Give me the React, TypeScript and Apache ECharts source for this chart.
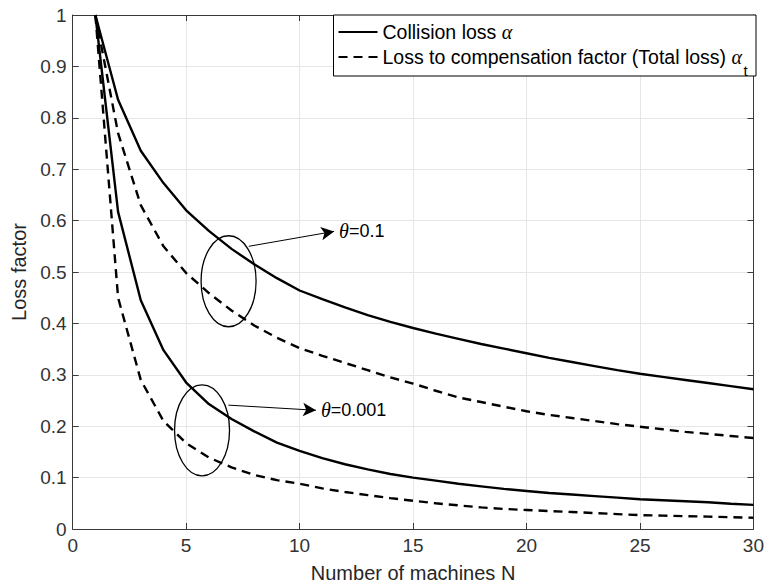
import React, { useEffect, useRef } from "react";
import * as echarts from "echarts";

// Number of machines N
const machines = [1, 2, 3, 4, 5, 6, 7, 8, 9, 10, 11, 12, 13, 14, 15, 16, 17, 18, 19, 20, 21, 22, 23, 24, 25, 26, 27, 28, 29, 30];

// theta = 0.1
const collisionTheta01 = [1, 0.835, 0.736, 0.673, 0.62, 0.58, 0.545, 0.515, 0.488, 0.464, 0.447, 0.431, 0.416, 0.403, 0.391, 0.38, 0.37, 0.36, 0.351, 0.342, 0.333, 0.325, 0.317, 0.309, 0.302, 0.296, 0.29, 0.284, 0.278, 0.272];
const totalTheta01 = [1, 0.77, 0.63, 0.55, 0.498, 0.459, 0.425, 0.396, 0.372, 0.352, 0.337, 0.323, 0.309, 0.295, 0.283, 0.269, 0.256, 0.247, 0.238, 0.229, 0.222, 0.216, 0.21, 0.204, 0.199, 0.194, 0.189, 0.185, 0.181, 0.177];

// theta = 0.001
const collisionTheta0001 = [1, 0.617, 0.445, 0.348, 0.285, 0.243, 0.214, 0.19, 0.168, 0.152, 0.138, 0.126, 0.116, 0.107, 0.1, 0.094, 0.088, 0.083, 0.078, 0.074, 0.07, 0.067, 0.064, 0.061, 0.058, 0.056, 0.054, 0.052, 0.049, 0.047];
const totalTheta0001 = [1, 0.45, 0.29, 0.21, 0.167, 0.139, 0.12, 0.105, 0.095, 0.088, 0.079, 0.072, 0.066, 0.06, 0.055, 0.05, 0.046, 0.042, 0.039, 0.037, 0.035, 0.033, 0.031, 0.029, 0.027, 0.026, 0.025, 0.024, 0.023, 0.022];

const legendNames = ["Collision loss α", "Loss to compensation factor (Total loss) αt"];
const legendSubscript = "t";
const xAxisName = "Number of machines N";
const yAxisName = "Loss factor";

// annotations (data coordinates)
const thetaLabels = ["0.1", "0.001"];
const ellipseCenters = [[6.87, 0.482], [5.7, 0.192]];
const arrowStarts = [[7.76, 0.55], [6.86, 0.241]];
const arrowEnds = [[11.52, 0.579], [10.72, 0.231]];

const FONT = "'Liberation Sans', Arial, Helvetica, sans-serif";
const SERIF = "'Liberation Serif', 'DejaVu Serif', serif";

const pairs = (ys: number[]) => machines.map((n, i) => [n, ys[i]]);

const W = 767;
const LEGEND_RIGHT = 11;
const LEGEND_TOP = 15;
const LEGEND_PAD = [7, 14, 9, 4];

export default function App() {
  const ref = useRef<HTMLDivElement>(null);
  useEffect(() => {
    if (!ref.current) return;
    const chart = echarts.init(ref.current, null, { renderer: "svg" });
    const solid = { color: "#000", width: 2.4, type: "solid" as const };
    const dashed = { color: "#000", width: 2.4, type: [9, 6] as any };
    const axisColor = "#3a3a3a";
    chart.setOption({
      animation: false,
      backgroundColor: "#fff",
      grid: { left: 72.7, right: 11, top: 15, bottom: 58.5, containLabel: false },
      legend: {
        orient: "vertical",
        right: LEGEND_RIGHT,
        top: LEGEND_TOP,
        align: "left",
        data: legendNames,
        itemWidth: 39,
        itemHeight: 14,
        itemGap: 5,
        padding: LEGEND_PAD,
        backgroundColor: "#fff",
        borderColor: "#000",
        borderWidth: 1,
        borderRadius: 0,
        selectedMode: false,
        itemStyle: { opacity: 0, color: "rgba(0,0,0,0)", borderWidth: 0 },
        formatter: (name: string) =>
          name === legendNames[0]
            ? "{m|Collision loss }{a|α}"
            : "{m|Loss to compensation factor (Total loss) }{a|α}",
        textStyle: {
          color: "#000",
          fontFamily: FONT,
          fontSize: 19.5,
          rich: {
            m: { fontFamily: FONT, fontSize: 19.5, color: "#000", lineHeight: 20 },
            a: { fontFamily: SERIF, fontStyle: "italic", fontSize: 20, color: "#000", lineHeight: 20 },
          },
        },
      },
      xAxis: [
        {
          type: "value",
          min: 0,
          max: 30,
          interval: 5,
          name: xAxisName,
          nameLocation: "middle",
          nameGap: 34,
          nameTextStyle: { fontFamily: FONT, fontSize: 20, color: "#262626" },
          axisLine: { show: true, onZero: false, lineStyle: { color: axisColor, width: 1 } },
          axisTick: { show: true, inside: true, length: 6, lineStyle: { color: axisColor } },
          axisLabel: { fontFamily: FONT, fontSize: 19, color: "#333", margin: 7 },
          splitLine: { show: true, lineStyle: { color: "#e6e6e6", width: 1 } },
        },
        {
          type: "value",
          position: "top",
          min: 0,
          max: 30,
          interval: 5,
          axisLine: { show: true, onZero: false, lineStyle: { color: axisColor, width: 1 } },
          axisTick: { show: true, inside: true, length: 6, lineStyle: { color: axisColor } },
          axisLabel: { show: false },
          splitLine: { show: false },
        },
      ],
      yAxis: [
        {
          type: "value",
          min: 0,
          max: 1,
          interval: 0.1,
          name: yAxisName,
          nameLocation: "middle",
          nameGap: 37,
          nameTextStyle: { fontFamily: FONT, fontSize: 20, color: "#262626" },
          axisLine: { show: true, onZero: false, lineStyle: { color: axisColor, width: 1 } },
          axisTick: { show: true, inside: true, length: 6, lineStyle: { color: axisColor } },
          axisLabel: { fontFamily: FONT, fontSize: 19, color: "#333", margin: 6 },
          splitLine: { show: true, lineStyle: { color: "#e6e6e6", width: 1 } },
        },
        {
          type: "value",
          position: "right",
          min: 0,
          max: 1,
          interval: 0.1,
          axisLine: { show: true, onZero: false, lineStyle: { color: axisColor, width: 1 } },
          axisTick: { show: true, inside: true, length: 6, lineStyle: { color: axisColor } },
          axisLabel: { show: false },
          splitLine: { show: false },
        },
      ],
      series: [
        {
          name: legendNames[0],
          type: "line",
          data: pairs(collisionTheta01),
          symbol: "none",
          lineStyle: solid,
          itemStyle: { color: "#000" },
          z: 3,
          markLine: {
            silent: true,
            symbol: ["none", "arrow"],
            symbolSize: [10, 13],
            label: { show: false },
            lineStyle: { color: "#000", width: 1, type: "solid" },
            data: arrowStarts.map((s, i) => [{ coord: s }, { coord: arrowEnds[i] }]),
          },
        },
        { name: legendNames[1], type: "line", data: pairs(totalTheta01), symbol: "none", lineStyle: dashed, itemStyle: { color: "#000" } },
        { name: legendNames[0], type: "line", data: pairs(collisionTheta0001), symbol: "none", lineStyle: solid, itemStyle: { color: "#000" } },
        { name: legendNames[1], type: "line", data: pairs(totalTheta0001), symbol: "none", lineStyle: dashed, itemStyle: { color: "#000" } },
      ],
    });

    const px = (p: number[]) => chart.convertToPixel({ gridIndex: 0 }, p) as number[];
    const graphics: any[] = [];
    ellipseCenters.forEach((c) => {
      const [cx, cy] = px(c);
      graphics.push({
        type: "ellipse",
        shape: { cx, cy, rx: 27.5, ry: 45.5 },
        style: { fill: "none", stroke: "#000", lineWidth: 1.3 },
        z: 10,
      });
    });
    arrowEnds.forEach((e, i) => {
      const [x, y] = px(e);
      graphics.push({
        type: "text",
        x: x + 5,
        y: y,
        style: {
          text: "{t|θ}{n|=" + thetaLabels[i] + "}",
          verticalAlign: "middle",
          align: "left",
          rich: {
            t: { fontFamily: SERIF, fontStyle: "italic", fontSize: 20, fill: "#000", lineHeight: 20 },
            n: { fontFamily: FONT, fontSize: 18, fill: "#000", lineHeight: 20 },
          },
        },
        z: 10,
      });
    });
    // subscript "t" of the legend's second entry (legend is right-anchored)
    const row2Center = LEGEND_TOP + LEGEND_PAD[0] + 20 + 5 + 10;
    graphics.push({
      type: "text",
      x: W - LEGEND_RIGHT - LEGEND_PAD[1] + 1.5,
      y: row2Center + 13,
      style: {
        text: legendSubscript,
        fontFamily: FONT,
        fontSize: 15,
        fill: "#000",
        align: "left",
        verticalAlign: "middle",
      },
      z: 20,
    });
    chart.setOption({ graphic: graphics });

    return () => chart.dispose();
  }, []);
  return (
    <div
      ref={ref}
      style={{ position: "fixed", left: 0, top: 0, width: W, height: 588, background: "#fff" }}
    />
  );
}
